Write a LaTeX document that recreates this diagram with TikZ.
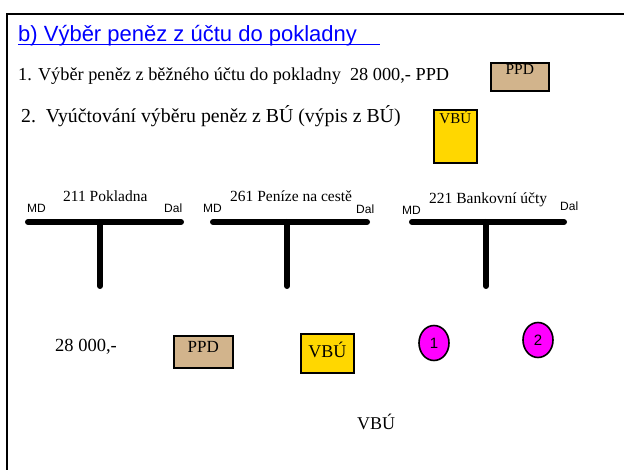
\documentclass[tikz,border=0pt]{standalone}
\usepackage{fontspec}
\setmainfont{Liberation Serif}
\newfontfamily\arial{Liberation Sans}
\usetikzlibrary{shapes.geometric}
\definecolor{tanppd}{RGB}{210,180,140}
\definecolor{vbuyellow}{RGB}{255,215,0}
\definecolor{numpink}{RGB}{255,0,255}

\begin{document}
\begin{tikzpicture}[x=1pt,y=-1pt,
        acct/.style={line width=6pt,line cap=round},
        doc/.style={draw=black,line width=1.6pt,inner sep=0pt,anchor=north west},
        ppd/.style={doc,fill=tanppd},
        vbu/.style={doc,fill=vbuyellow},
        num/.style={ellipse,draw=black,line width=1.6pt,fill=numpink,inner sep=0pt,
            minimum width=30pt,minimum height=35pt,font=\arial\fontsize{15}{15}\selectfont},
        side/.style={anchor=base west,inner sep=0pt,font=\arial\fontsize{12}{12}\selectfont},
        accname/.style={anchor=base west,inner sep=0pt,font=\fontsize{15.5}{16}\selectfont}]
\useasboundingbox (0,0) rectangle (624,470);
\draw[line width=2pt] (640,14) -- (7,14) -- (7,480);

\node[anchor=base west,inner sep=0pt,text=blue,font=\arial\fontsize{22}{22}\selectfont]
    (title) at (18,42) {b) Výběr peněz z účtu do pokladny};
\draw[blue,line width=1pt] ([yshift=-3pt]title.base west) -- ++(362,0);

\node[anchor=base west,inner sep=0pt,font=\fontsize{18.3}{19}\selectfont] (op1) at (18,81)
    {1. Výběr peněz z běžného účtu do pokladny\ \ 28 000,- PPD};
\node[anchor=base west,inner sep=0pt,font=\fontsize{19.8}{20}\selectfont] (op2) at (21,123)
    {2.\ \ Vyúčtování výběru peněz z BÚ (výpis z BÚ)};
\node[ppd,minimum width=58pt,text height=12pt,text depth=16pt,font=\fontsize{15.5}{16}\selectfont]
    (ppd1) at (490,62) {PPD};
\node[vbu,minimum width=43pt,text height=14pt,text depth=39pt,font=\fontsize{15}{15}\selectfont]
    (vbu1) at (433,109) {VBÚ};

\draw[acct] (28,222) -- (181,222);
\draw[acct] (100,222) -- (100,286);
\node[accname] (pokl) at (63,202) {211 Pokladna};
\node[side] (md1) at (27,213) {MD};
\node[side] (dal1) at (164,213) {Dal};

\draw[acct] (213,222) -- (367,222);
\draw[acct] (287,222) -- (287,286);
\node[accname] (cesta) at (230,202) {261 Peníze na cestě};
\node[side] (md2) at (203,213) {MD};
\node[side] (dal2) at (356,214) {Dal};

\draw[acct] (412,222) -- (564,222);
\draw[acct] (486,222) -- (486,286);
\node[accname] (banka) at (429,204) {221 Bankovní účty};
\node[side] (md3) at (402,215) {MD};
\node[side] (dal3) at (560,211) {Dal};

\node[anchor=base west,inner sep=0pt,font=\fontsize{18.5}{19}\selectfont] (castka) at (55,352) {28 000,-};
\node[ppd,minimum width=59pt,text height=17pt,text depth=15pt,font=\fontsize{17}{17}\selectfont]
    (ppd2) at (173,335) {PPD};
\node[vbu,minimum width=53pt,text height=24pt,text depth=15pt,font=\fontsize{18}{18}\selectfont]
    (vbu2) at (300,333) {VBÚ};
\node[num] (c1) at (434,343) {1};
\node[num] (c2) at (538,340) {2};
\node[anchor=base west,inner sep=0pt,font=\fontsize{18}{18}\selectfont] (vbu3) at (357,429) {VBÚ};
\end{tikzpicture}
\end{document}
